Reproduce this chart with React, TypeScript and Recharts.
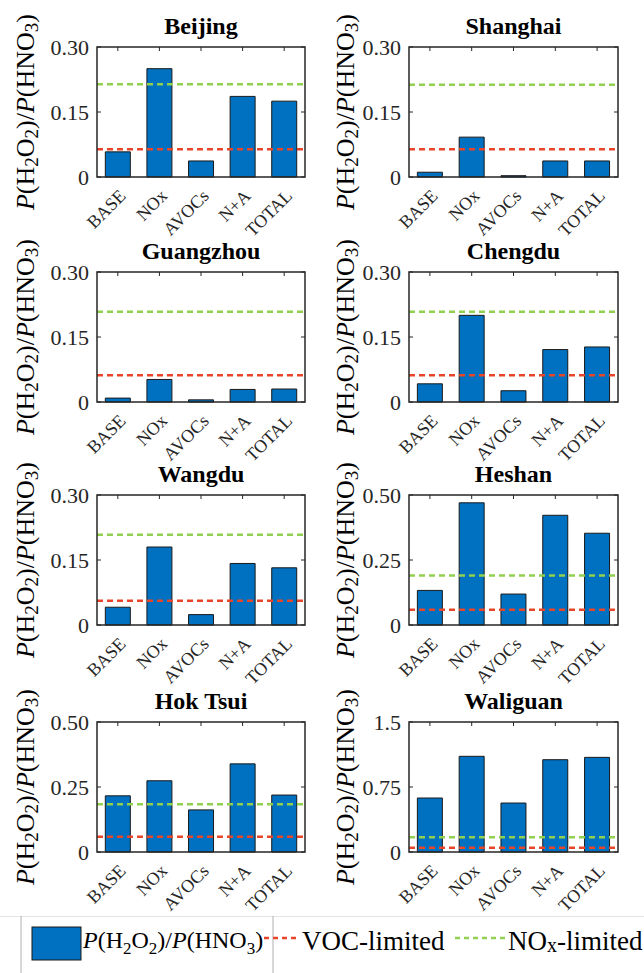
import { BarChart, Bar, XAxis, YAxis, ReferenceLine } from "recharts";

const scenarios = ["BASE", "NOx", "AVOCs", "N+A", "TOTAL"];
const sites = ["Beijing", "Shanghai", "Guangzhou", "Chengdu", "Wangdu", "Heshan", "Hok Tsui", "Waliguan"];

// P(H2O2)/P(HNO3) per scenario, one array per site
const beijing = [0.058, 0.25, 0.037, 0.186, 0.175];
const shanghai = [0.011, 0.092, 0.003, 0.037, 0.037];
const guangzhou = [0.009, 0.052, 0.005, 0.029, 0.03];
const chengdu = [0.042, 0.2, 0.026, 0.121, 0.127];
const wangdu = [0.041, 0.18, 0.024, 0.142, 0.132];
const heshan = [0.133, 0.47, 0.119, 0.422, 0.353];
const hokTsui = [0.216, 0.274, 0.162, 0.339, 0.219];
const waliguan = [0.623, 1.104, 0.565, 1.065, 1.092];
const ratios = [beijing, shanghai, guangzhou, chengdu, wangdu, heshan, hokTsui, waliguan];

// threshold lines
const vocLimited = [0.064, 0.064, 0.062, 0.062, 0.056, 0.059, 0.059, 0.05];
const noxLimited = [0.214, 0.213, 0.208, 0.208, 0.208, 0.19, 0.184, 0.169];

const yMax = [0.3, 0.3, 0.3, 0.3, 0.3, 0.5, 0.5, 1.5];
const yTickLabels = [
	["0", "0.15", "0.30"],
	["0", "0.15", "0.30"],
	["0", "0.15", "0.30"],
	["0", "0.15", "0.30"],
	["0", "0.15", "0.30"],
	["0", "0.25", "0.50"],
	["0", "0.25", "0.50"],
	["0", "0.75", "1.5"],
];

const FONT = "'Liberation Serif', 'Times New Roman', serif";
const INK = "#262626";
const BLUE = "#0070C0";
const RED = "#E8462A";
const GREEN = "#92D050";

const PANEL_W = 322;
const PANEL_H = 225;
const CHART_H = 265; // taller so rotated labels can spill into the next row
const PLOT_TOP = 47;
const PLOT_H = 130;
const Y_AXIS_W = 57;
const rowTops = [0, 225, 448, 675];

const YLabel = ({ x, y, size }: { x: number; y: number; size: number }) => {
	const sub = Math.round(size * 0.72);
	const d = 6;
	return (
		<text
			x={x}
			y={y}
			transform={`rotate(-90 ${x} ${y})`}
			textAnchor="middle"
			dominantBaseline="central"
			fontFamily={FONT}
			fontSize={size}
			fill="#000"
		>
			<tspan fontStyle="italic">P</tspan>
			<tspan>(H</tspan>
			<tspan fontSize={sub} dy={d}>2</tspan>
			<tspan dy={-d}>O</tspan>
			<tspan fontSize={sub} dy={d}>2</tspan>
			<tspan dy={-d}>)/</tspan>
			<tspan fontStyle="italic">P</tspan>
			<tspan>(HNO</tspan>
			<tspan fontSize={sub} dy={d}>3</tspan>
			<tspan dy={-d}>)</tspan>
		</text>
	);
};

const Panel = ({ idx }: { idx: number }) => {
	const col = idx % 2;
	const row = Math.floor(idx / 2);
	const marginLeft = col === 0 ? 40 : 30;
	const marginRight = col === 0 ? 17 : 26;
	const plotLeft = marginLeft + Y_AXIS_W;
	const plotRight = PANEL_W - marginRight;
	const plotW = plotRight - plotLeft;
	const plotBottom = PLOT_TOP + PLOT_H;
	const labelX = plotLeft - (col === 0 ? 72 : 64);
	const data = scenarios.map((s, i) => ({ name: s, value: ratios[idx][i] }));
	const top = yMax[idx];

	const xTick = (props: any) => {
		const { x, payload } = props;
		const ax = x + 9;
		const ay = plotBottom + 20;
		return (
			<g>
				<line x1={x} x2={x} y1={PLOT_TOP} y2={PLOT_TOP + 4} stroke={INK} strokeWidth={1} />
				<text
					x={ax}
					y={ay}
					transform={`rotate(-45 ${ax} ${ay})`}
					textAnchor="end"
					fontFamily={FONT}
					fontSize={18}
					fill={INK}
				>
					{payload.value}
				</text>
			</g>
		);
	};

	const yTick = (props: any) => {
		const { y, index } = props;
		return (
			<g>
				<line x1={plotLeft} x2={plotLeft + 4} y1={y} y2={y} stroke={INK} strokeWidth={1} />
				<line x1={plotRight - 4} x2={plotRight} y1={y} y2={y} stroke={INK} strokeWidth={1} />
				<text
					x={plotLeft - 8}
					y={y}
					textAnchor="end"
					dominantBaseline="central"
					fontFamily={FONT}
					fontSize={22}
					fill={INK}
				>
					{yTickLabels[idx][index]}
				</text>
			</g>
		);
	};

	return (
		<div
			style={{
				position: "absolute",
				left: col * PANEL_W,
				top: rowTops[row],
				width: PANEL_W,
				height: CHART_H,
			}}
		>
			<BarChart
				width={PANEL_W}
				height={CHART_H}
				data={data}
				margin={{ top: PLOT_TOP, right: marginRight, left: marginLeft, bottom: 0 }}
				barCategoryGap="20%"
			>
				<XAxis
					dataKey="name"
					height={CHART_H - PLOT_TOP - PLOT_H}
					interval={0}
					tickLine={false}
					axisLine={false}
					tick={xTick}
				/>
				<YAxis
					width={Y_AXIS_W}
					domain={[0, top]}
					ticks={[0, top / 2, top]}
					tickLine={false}
					axisLine={false}
					tick={yTick}
				/>
				<Bar dataKey="value" fill={BLUE} stroke="#1a1a1a" strokeWidth={1} isAnimationActive={false} />
				<ReferenceLine y={vocLimited[idx]} stroke={RED} strokeWidth={2.5} strokeDasharray="6 4" />
				<ReferenceLine y={noxLimited[idx]} stroke={GREEN} strokeWidth={2.5} strokeDasharray="6 4" />
			</BarChart>
			<svg
				width={PANEL_W}
				height={PANEL_H}
				style={{ position: "absolute", left: 0, top: 0, pointerEvents: "none" }}
			>
				<rect
					x={plotLeft}
					y={PLOT_TOP}
					width={plotW}
					height={PLOT_H}
					fill="none"
					stroke={INK}
					strokeWidth={1.5}
				/>
				<YLabel x={labelX} y={PLOT_TOP + PLOT_H / 2} size={26} />
				<text
					x={plotLeft + plotW / 2}
					y={PLOT_TOP - 13}
					textAnchor="middle"
					fontFamily={FONT}
					fontWeight="bold"
					fontSize={24}
					fill="#000"
				>
					{sites[idx]}
				</text>
			</svg>
		</div>
	);
};

const Legend = () => (
	<svg width={644} height={57} style={{ position: "absolute", left: 0, top: 916 }}>
		<line x1={0} x2={644} y1={0.5} y2={0.5} stroke="#e4e4e4" strokeWidth={1} />
		<line x1={21} x2={21} y1={0} y2={57} stroke="#b0b0b0" strokeWidth={1} />
		<line x1={273} x2={273} y1={0} y2={57} stroke="#b0b0b0" strokeWidth={1} />
		<rect x={32} y={11} width={49} height={33} fill={BLUE} stroke="#1a1a1a" strokeWidth={1} />
		<text x={83} y={32} fontFamily={FONT} fontSize={24} fill="#000">
			<tspan fontStyle="italic">P</tspan>
			<tspan>(H</tspan>
			<tspan fontSize={17} dy={6}>2</tspan>
			<tspan dy={-6}>O</tspan>
			<tspan fontSize={17} dy={6}>2</tspan>
			<tspan dy={-6}>)/</tspan>
			<tspan fontStyle="italic">P</tspan>
			<tspan>(HNO</tspan>
			<tspan fontSize={17} dy={6}>3</tspan>
			<tspan dy={-6}>)</tspan>
		</text>
		<line x1={264} x2={296} y1={22} y2={22} stroke={RED} strokeWidth={2.5} strokeDasharray="5 4" />
		<text x={302} y={34} fontFamily={FONT} fontSize={27} fill="#000">
			VOC-limited
		</text>
		<line x1={455} x2={505} y1={22} y2={22} stroke={GREEN} strokeWidth={2.5} strokeDasharray="5 4" />
		<text x={508} y={34} fontFamily={FONT} fontSize={27} fill="#000">
			<tspan>NO</tspan>
			<tspan fontSize={20} dy={2}>x</tspan>
			<tspan dy={-2}>-limited</tspan>
		</text>
	</svg>
);

const App = () => (
	<div
		style={{
			position: "absolute",
			left: 0,
			top: 0,
			width: 644,
			height: 973,
			background: "#fff",
			overflow: "hidden",
			fontFamily: FONT,
		}}
	>
		{sites.map((_, i) => (
			<Panel key={i} idx={i} />
		))}
		<Legend />
	</div>
);

export default App;
